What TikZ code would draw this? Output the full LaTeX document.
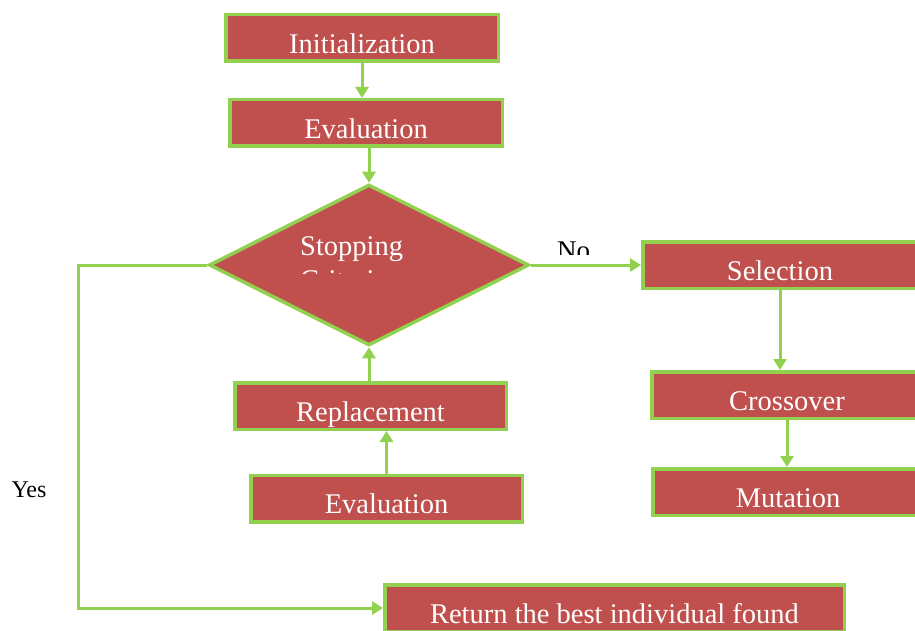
\documentclass[tikz,border=0pt]{standalone}
\usepackage{fontspec}
\setmainfont{Liberation Serif}
\usetikzlibrary{arrows.meta,shapes.geometric}
\definecolor{gared}{HTML}{C0504D}
\definecolor{gagreen}{HTML}{92D050}
\tikzset{
  ga_box/.style = {rectangle, draw=gagreen, fill=gared, line width=3.5pt,
    inner sep=0pt, minimum height=46.5pt, text=white,
    text height=33.6pt, text depth=2.8pt, font=\fontsize{28.5}{34}\selectfont},
  ga_dec/.style = {diamond, draw=gagreen, fill=gared, line width=3.5pt,
    inner sep=0pt, minimum width=320pt, minimum height=161pt},% stopping test
  ga_link/.style = {draw=gagreen, line width=3pt},
}

\begin{document}
\begin{tikzpicture}[x=1pt,y=-1pt,->,>={Triangle[length=11pt,width=13pt]}]
\useasboundingbox (0,0) rectangle (915,631);
\clip (0,0) rectangle (915,631);

\node [ga_box, minimum width=272.5pt] (init) at (362,38) {Initialization};
\node [ga_box, minimum width=272.5pt] (eval) at (366,123) {Evaluation};
\node [ga_dec] (stop) at (369,265) {};
\node [ga_box, minimum width=274.5pt] (sel) at (780,265) {Selection};
\node [ga_box, minimum width=270.5pt] (cross) at (787,395) {Crossover};
\node [ga_box, minimum width=270.5pt] (mut) at (788,492) {Mutation};
\node [ga_box, minimum width=271.5pt] (repl) at (370.5,406) {Replacement};
\node [ga_box, minimum width=271.5pt] (evalb) at (386.5,498.5) {Evaluation};
\node [ga_box, minimum width=459.5pt] (ret) at (614.5,608) {Return the best individual found};

% text of the test is cut off, as in the source
\begin{scope}
  \clip (280,220) rectangle (460,273);
  \node [anchor=base west, inner sep=0pt, text=white,
    font=\fontsize{28.5}{34}\selectfont] (stoptxt) at (300,255) {Stopping};
  \node [anchor=base west, inner sep=0pt, text=white,
    font=\fontsize{28.5}{34}\selectfont] (crittxt) at (300,289) {Criteria};
\end{scope}
\begin{scope}
  \clip (540,230) rectangle (620,254);
  \node [anchor=base west, inner sep=0pt,
    font=\fontsize{27}{32}\selectfont] (no) at (557,259) {No};
\end{scope}
\node [font=\fontsize{24}{28}\selectfont] (yes) at (29,490) {Yes};

\coordinate (yescorner) at (78,265);

\draw [ga_link] (init.south) -- (init.south |- eval.north);
\draw [ga_link] (eval.south -| stop.north) -- (stop.north);
\draw [ga_link] (stop.east) -- (sel.west);
\draw [ga_link] (sel.south) -- (sel.south |- cross.north);
\draw [ga_link] (cross.south) -- (cross.south |- mut.north);
\draw [ga_link] (evalb.north) -- (evalb.north |- repl.south);
\draw [ga_link] (repl.north -| stop.south) -- (stop.south);
\draw [ga_link] (stop.west) -- (yescorner) |- (ret.west);
\end{tikzpicture}
\end{document}
